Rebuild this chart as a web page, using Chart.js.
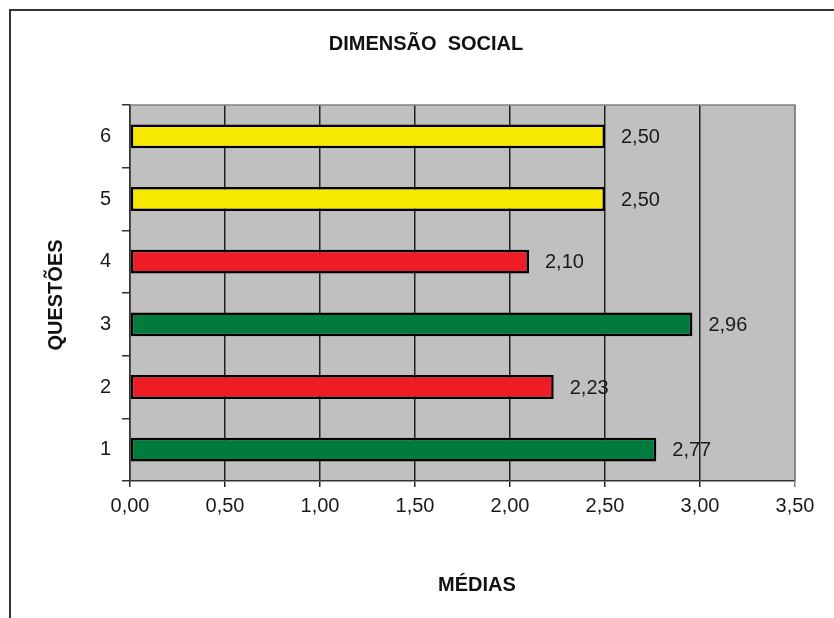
<!DOCTYPE html>
<html>
<head>
<meta charset="utf-8">
<title>Dimensão Social</title>
<script src="https://cdn.jsdelivr.net/npm/chart.js@4.4.1/dist/chart.umd.min.js"></script>
<style>
  body { margin: 0; background: #fff; }
  canvas { display: block; }
</style>
</head>
<body>
<canvas id="grafico" width="834" height="618"></canvas>
<script>
// dados
const questoes = ['1', '2', '3', '4', '5', '6'];
const medias = [2.77, 2.23, 2.96, 2.10, 2.50, 2.50];
const coresBarras = ['#007a3d', '#ee1c25', '#007a3d', '#ee1c25', '#f7ea00', '#f7ea00'];
const ticksX = [0, 0.5, 1, 1.5, 2, 2.5, 3, 3.5];

const FONTE = "'Liberation Sans', Arial, sans-serif";
const fmt = v => v.toFixed(2).replace('.', ',');

// fundo cinza da área de plotagem, moldura, títulos e rótulos de valor
const extras = {
    id: 'extras',
    beforeDraw(chart) {
        const { ctx, chartArea: a } = chart;
        ctx.save();
        ctx.fillStyle = '#c0c0c0';
        ctx.fillRect(a.left, a.top, a.right - a.left, a.bottom - a.top);
        ctx.restore();
    },
    beforeDatasetsDraw(chart) {
        const { ctx, chartArea: a } = chart;
        ctx.save();
        ctx.strokeStyle = '#808080';
        ctx.lineWidth = 1.5;
        ctx.beginPath();
        ctx.moveTo(a.left, a.top);
        ctx.lineTo(a.right, a.top);
        ctx.lineTo(a.right, a.bottom);
        ctx.stroke();
        ctx.restore();
    },
    afterDatasetsDraw(chart) {
        const { ctx } = chart;
        const meta = chart.getDatasetMeta(0);
        ctx.save();
        ctx.font = '20px ' + FONTE;
        ctx.fillStyle = '#1a1a1a';
        ctx.textAlign = 'left';
        ctx.textBaseline = 'middle';
        meta.data.forEach((bar, i) => {
            ctx.fillText(fmt(medias[i]), bar.x + 16, bar.y + 1);
        });
        ctx.restore();
    },
    afterDraw(chart) {
        const { ctx, chartArea: a } = chart;
        ctx.save();
        // moldura externa (só topo e esquerda aparecem)
        ctx.strokeStyle = '#333';
        ctx.lineWidth = 2;
        ctx.beginPath();
        ctx.moveTo(10, chart.height);
        ctx.lineTo(10, 10);
        ctx.lineTo(chart.width, 10);
        ctx.stroke();

        ctx.fillStyle = '#111';
        ctx.font = 'bold 20px ' + FONTE;
        ctx.textAlign = 'center';
        ctx.textBaseline = 'middle';
        ctx.fillText('DIMENSÃO  SOCIAL', 426, 44);
        ctx.fillText('MÉDIAS', 477, 585);

        ctx.translate(56, (a.top + a.bottom) / 2 + 2);
        ctx.rotate(-Math.PI / 2);
        ctx.fillText('QUESTÕES', 0, 0);
        ctx.restore();
    }
};

new Chart(document.getElementById('grafico'), {
    type: 'bar',
    data: {
        labels: questoes,
        datasets: [{
            data: medias,
            backgroundColor: coresBarras,
            borderColor: '#000',
            borderWidth: 2.5,
            borderSkipped: false,
            categoryPercentage: 1,
            barPercentage: 0.38
        }]
    },
    options: {
        indexAxis: 'y',
        responsive: false,
        animation: false,
        layout: { padding: { top: 105, right: 39, left: 0, bottom: 0 } },
        plugins: { legend: { display: false }, tooltip: { enabled: false }, title: { display: false } },
        scales: {
            x: {
                min: 0,
                max: 3.5,
                afterBuildTicks: s => { s.ticks = ticksX.map(v => ({ value: v })); },
                afterFit: s => { s.height = 137; },
                ticks: {
                    callback: v => fmt(v),
                    color: '#1a1a1a',
                    font: { family: FONTE, size: 20 },
                    padding: 7,
                    maxRotation: 0
                },
                grid: {
                    color: c => (c.tick && c.tick.value === 3.5) ? '#808080' : '#222',
                    lineWidth: 1.5,
                    tickLength: 6
                },
                border: { display: true, color: '#333', width: 1.5 }
            },
            y: {
                reverse: true,
                afterFit: s => { s.width = 130; },
                ticks: {
                    color: '#1a1a1a',
                    font: { family: FONTE, size: 20 },
                    padding: 11
                },
                grid: {
                    drawOnChartArea: false,
                    color: '#333',
                    lineWidth: 1.5,
                    tickLength: 8
                },
                border: { display: true, color: '#333', width: 1.5 }
            }
        }
    },
    plugins: [extras]
});
</script>
</body>
</html>
